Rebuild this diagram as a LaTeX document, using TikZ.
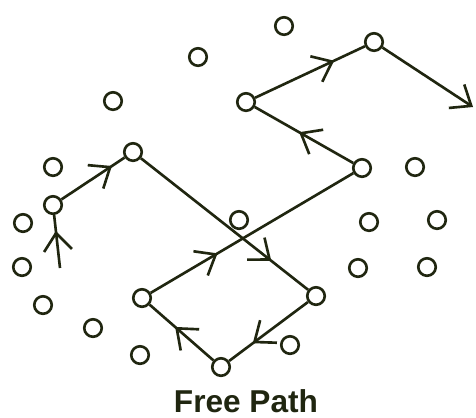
\documentclass[tikz,border=0pt]{standalone}
\usepackage{fontspec}
\setsansfont{Liberation Sans}
\usepackage{tikz}
\usetikzlibrary{arrows.meta, decorations.markings}
\definecolor{ink}{RGB}{32,38,16}
\tikzset{
    ion/.style={circle, draw=ink, line width=1.5pt, minimum size=0.35cm, inner sep=0pt, fill=white},
    path/.style={draw=ink, line width=1.5pt},
    barb/.style={-{Straight Barb[length=10pt, width=16pt, line width=1.5pt]}},
    midarrow/.style={postaction={decorate, decoration={markings, mark=at position #1 with {\arrow{Straight Barb[length=10pt, width=16pt, line width=1.5pt]}}}}},
    caption/.style={font=\sffamily\bfseries\fontsize{18}{20}\selectfont, text=ink, inner sep=0pt, anchor=base}
}
\begin{document}
\begin{tikzpicture}[x=0.02cm, y=-0.02cm]
        \useasboundingbox (0,0) rectangle (476,417);

        % Ions not on the path
        \node[ion] (i1) at (284,26) {};
        \node[ion] (i2) at (198,57) {};
        \node[ion] (i3) at (113,101) {};
        \node[ion] (i4) at (53,167) {};
        \node[ion] (i5) at (415,167) {};
        \node[ion] (i6) at (239,220) {};
        \node[ion] (i7) at (23,223) {};
        \node[ion] (i8) at (369,222) {};
        \node[ion] (i9) at (437,220) {};
        \node[ion] (i10) at (22,267) {};
        \node[ion] (i11) at (358,268) {};
        \node[ion] (i12) at (427,267) {};
        \node[ion] (i13) at (43,305) {};
        \node[ion] (i14) at (93,328) {};
        \node[ion] (i15) at (140,355) {};
        \node[ion] (i16) at (290,345) {};

        % Ions hit along the path
        \node[ion] (h1) at (53,205) {};
        \node[ion] (h2) at (133,152) {};
        \node[ion] (h3) at (316,296) {};
        \node[ion] (h4) at (221,367) {};
        \node[ion] (h5) at (142,298) {};
        \node[ion] (h6) at (362,168) {};
        \node[ion] (h7) at (246,102) {};
        \node[ion] (h8) at (374,42) {};

        % Free ends
        \coordinate (enter) at (60,268);
        \coordinate (leave) at (473,107);

        % Free path
        \draw[path, midarrow=0.7] (enter) -- (h1);
        \draw[path, midarrow=0.8] (h1) -- (h2);
        \draw[path, midarrow=0.78] (h2) -- (h3);
        \draw[path, midarrow=0.7] (h3) -- (h4);
        \draw[path, midarrow=0.6] (h4) -- (h5);
        \draw[path, midarrow=0.33] (h5) -- (h6);
        \draw[path, midarrow=0.55] (h6) -- (h7);
        \draw[path, midarrow=0.72] (h7) -- (h8);
        \draw[path, barb] (h8) -- (leave);

        % Caption
        \node[caption] (title) at (246,412) {Free Path};
    \end{tikzpicture}
\end{document}
